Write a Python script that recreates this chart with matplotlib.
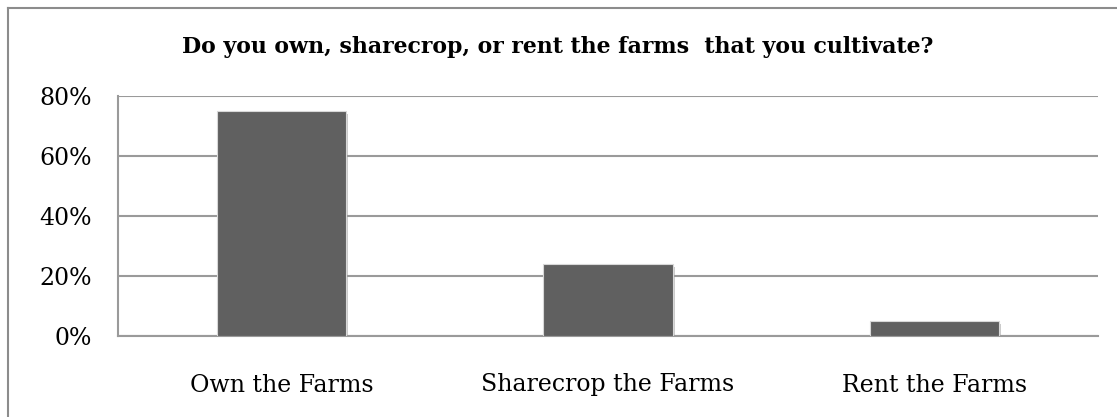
import matplotlib
matplotlib.use("Agg")
import matplotlib.pyplot as plt
from matplotlib.lines import Line2D
import matplotlib.patheffects as pe

categories = ["Own the Farms", "Sharecrop the Farms", "Rent the Farms"]
values = [75, 24, 5]
yticks = [0, 20, 40, 60, 80]
ytick_labels = ["0%", "20%", "40%", "60%", "80%"]
title = "Do you own, sharecrop, or rent the farms  that you cultivate?"

W, H = 1117, 417
fig = plt.figure(figsize=(W / 100, H / 100), dpi=100)
plt.rcParams['font.family'] = ['DejaVu Serif']

# outer border (top and left edges visible)
fig.add_artist(Line2D([8 / W, 1.0], [1 - 8 / H, 1 - 8 / H], transform=fig.transFigure,
                      color="#8c8c8c", linewidth=1.5))
fig.add_artist(Line2D([8 / W, 8 / W], [0, 1 - 8 / H], transform=fig.transFigure,
                      color="#8c8c8c", linewidth=1.5))

ax = fig.add_axes([118 / W, (H - 336) / H, (1098 - 118) / W, (336 - 96) / H])
x = range(len(categories))
bars = ax.bar(x, values, width=0.395, color="#606060", edgecolor="#d8d8d8",
              linewidth=0.8, zorder=3)
for b in bars:
    b.set_path_effects([pe.SimplePatchShadow(offset=(1.5, -2), shadow_rgbFace="#999999", alpha=0.5),
                        pe.Normal()])

ax.set_xlim(-0.5, 2.5)
ax.set_ylim(0, 80)
ax.set_yticks(yticks)
ax.set_yticklabels(ytick_labels, fontsize=17)
ax.set_xticks(list(x))
ax.set_xticklabels(categories, fontsize=17)
ax.tick_params(axis="both", length=0)
ax.tick_params(axis="y", pad=19)
ax.tick_params(axis="x", pad=27)

ax.grid(axis="y", color="#9a9a9a", linewidth=1.5, zorder=0)
ax.set_axisbelow(True)
for s in ["top", "right"]:
    ax.spines[s].set_visible(False)
ax.spines["left"].set_color("#9a9a9a")
ax.spines["left"].set_linewidth(1.5)
ax.spines["bottom"].set_color("#9a9a9a")
ax.spines["bottom"].set_linewidth(1.5)

fig.text(558 / W, 1 - 47 / H, title, ha="center", va="center",
         fontsize=15.8, fontweight="bold")

fig.savefig("out.png", dpi=100)
